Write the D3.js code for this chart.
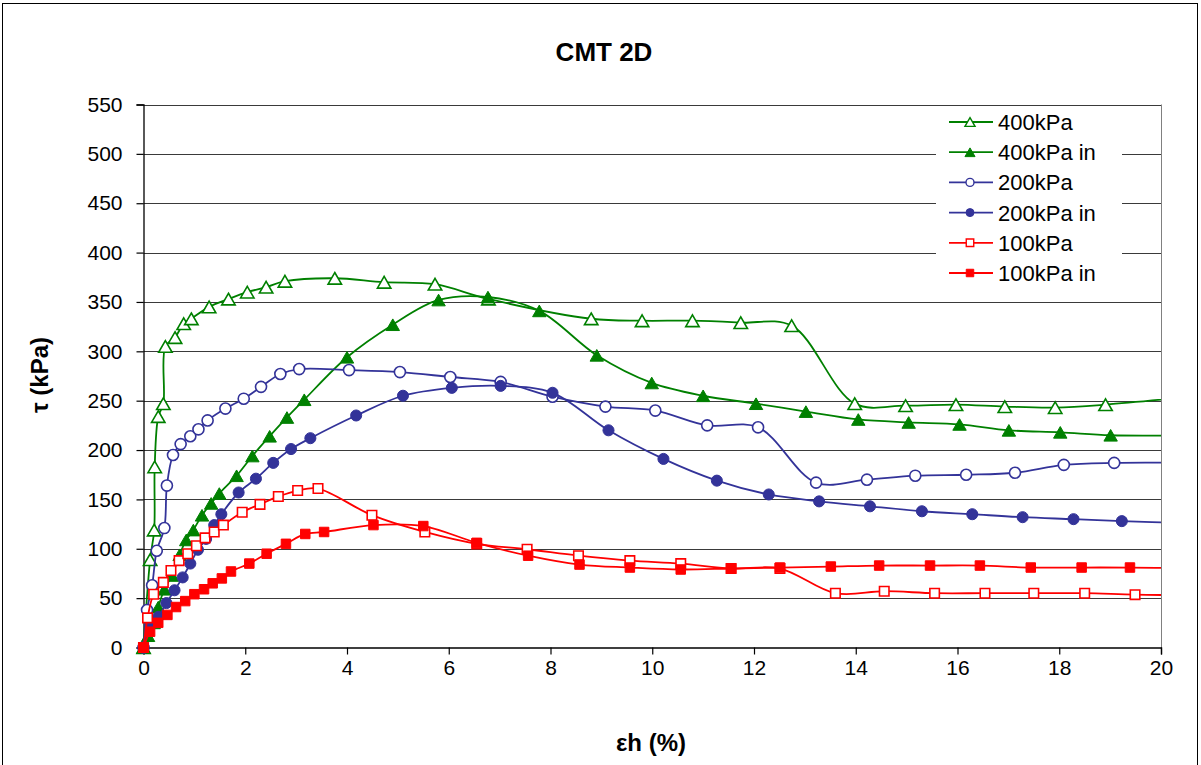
<!DOCTYPE html>
<html><head><meta charset="utf-8">
<script src="https://cdn.jsdelivr.net/npm/d3@7"></script>
<style>body{margin:0;background:#fff}svg{display:block}text{font-family:"Liberation Sans",Arial,sans-serif}</style>
</head><body>
<svg id="c" width="1201" height="765"></svg>
<script>
// ---- data ----
const xTicks = [0,2,4,6,8,10,12,14,16,18,20];
const yTicks = [0,50,100,150,200,250,300,350,400,450,500,550];

const x400 = [0,0.13,0.21,0.22,0.29,0.39,0.43,0.62,0.79,0.94,1.29,1.67,2.04,2.41,2.78,3.76,4.73,5.73,6.78,8.80,9.80,10.79,11.74,12.74,13.98,14.98,15.97,16.93,17.92,18.91,20.6];
const y400 = [0,89,119,183,234,247,305,314,328,333,345,353,360,365,371,374,370,368,353,333,331,331,329,326,247,245,246,244,243,246,254];

const x400in = [0,0.09,0.2,0.29,0.41,0.56,0.71,0.84,0.98,1.15,1.33,1.49,1.83,2.14,2.48,2.82,3.16,4.00,4.90,5.80,6.77,7.78,8.91,9.99,11.00,12.04,13.02,14.05,15.04,16.04,17.01,18.02,19.01,20.6];
const y400in = [0,12,25,41,59,73,94,109,119,134,146,156,174,194,214,233,251,294,327,352,355,341,296,268,255,247,239,231,228,226,220,218,215,215];

const x200 = [0,0.07,0.17,0.26,0.41,0.46,0.58,0.73,0.92,1.08,1.26,1.61,1.97,2.31,2.69,3.06,4.04,5.04,6.03,7.02,8.04,9.08,10.06,11.08,12.08,13.22,14.22,15.17,16.17,17.13,18.09,19.08,20.6];
const y200 = [0,38,63,98,121,164,195,206,214,221,230,242,252,264,277,282,281,279,274,269,254,244,240,225,223,167,170,174,175,177,185,187,187];

const x200in = [0,0.13,0.29,0.45,0.61,0.77,0.92,1.07,1.23,1.39,1.53,1.87,2.21,2.55,2.90,3.28,4.18,5.10,6.06,7.02,8.04,9.14,10.22,11.27,12.29,13.28,14.28,15.30,16.29,17.28,18.28,19.23,20.6];
const y200in = [0,23,31,45,58,71,85,99,110,124,135,157,171,187,201,212,235,255,263,265,258,220,191,169,155,148,143,138,135,132,130,128,126];

const x100 = [0,0.08,0.20,0.39,0.54,0.70,0.87,1.04,1.21,1.39,1.57,1.94,2.29,2.65,3.03,3.43,4.49,5.53,6.55,7.54,8.55,9.56,10.56,11.55,12.51,13.60,14.56,15.55,16.54,17.50,18.50,19.49,20.6];
const y100 = [0,30,54,66,78,88,95,103,111,117,124,137,145,153,159,161,134,117,105,99.5,93,88,85,80,80,55,57,55,55,55,55,53.5,53];

const x100in = [0,0.13,0.29,0.47,0.64,0.82,1.00,1.19,1.36,1.54,1.72,2.08,2.42,2.80,3.18,3.55,4.52,5.50,6.55,7.56,8.57,9.56,10.56,11.55,12.51,13.51,14.46,15.46,16.44,17.44,18.44,19.39,20.6];
const y100in = [0,16,25,33,41,47,54,59,65,70,77,85,95,105,115,117,124,123,106,93,84,81,79,80,81,82,83,83,83,81,81,81,80];

const seriesNames = ["400kPa","400kPa in","200kPa","200kPa in","100kPa","100kPa in"];
const seriesX = [x400,x400in,x200,x200in,x100,x100in];
const seriesY = [y400,y400in,y200,y200in,y100,y100in];
const seriesColor = ["#008000","#008000","#333399","#333399","#FF0000","#FF0000"];
const seriesShape = ["triangle","triangle","circle","circle","square","square"];
const seriesFilled = [false,true,false,true,false,true];

// ---- layout ----
const svg = d3.select("#c");
const L = 143.5, R = 1161, T = 104.5, B = 647.5;
const xS = d3.scaleLinear().domain([0,20]).range([L,R]);
const yS = d3.scaleLinear().domain([0,550]).range([B,T]);

// outer frame
svg.append("rect").attr("x",2.5).attr("y",3.5).attr("width",1195).attr("height",800)
  .attr("fill","none").attr("stroke","#000").attr("stroke-width",1);

// gridlines
svg.append("g").selectAll("line").data(yTicks.filter(d=>d>0)).join("line")
  .attr("x1",L).attr("x2",R).attr("y1",d=>Math.round(yS(d))+0.5).attr("y2",d=>Math.round(yS(d))+0.5)
  .attr("stroke","#3a3a3a").attr("stroke-width",1);
// right plot border
svg.append("line").attr("x1",R+0.5).attr("x2",R+0.5).attr("y1",T).attr("y2",B).attr("stroke","#808080");

// axes
const yAxis = d3.axisLeft(yS).tickValues(yTicks).tickSize(7).tickPadding(14).tickFormat(d3.format("d"));
const gy = svg.append("g").attr("transform",`translate(${L},0)`).call(yAxis);
const xAxis = d3.axisBottom(xS).tickValues(xTicks).tickSize(7).tickPadding(6).tickFormat(d3.format("d"));
const gx = svg.append("g").attr("transform",`translate(0,${B})`).call(xAxis);
[gx,gy].forEach(g=>{
  g.selectAll(".domain").attr("stroke","#000").attr("stroke-width",1.3);
  g.selectAll(".tick line").attr("stroke","#000").attr("stroke-width",1.2);
  g.selectAll("text").attr("font-size",21).attr("fill","#000").attr("font-family","'Liberation Sans',Arial,sans-serif");
});

// clip
svg.append("defs").append("clipPath").attr("id","clip").append("rect")
  .attr("x",L-8).attr("y",T-10).attr("width",R-L+8).attr("height",B-T+20);

function symPath(shape, big){
  const t = shape==="triangle"?d3.symbolTriangle:shape==="circle"?d3.symbolCircle:d3.symbolSquare;
  const s = shape==="triangle"?(big?78:44):shape==="circle"?(big?96:50):(big?90:56);
  return d3.symbol().type(t).size(s)();
}

const line = d3.line().curve(d3.curveCatmullRom.alpha(0.5)).x(d=>xS(d[0])).y(d=>yS(d[1]));
const plot = svg.append("g").attr("clip-path","url(#clip)");
seriesNames.forEach((name,i)=>{
  const pts = seriesX[i].map((xv,j)=>[xv,seriesY[i][j]]);
  const g = plot.append("g");
  g.append("path").datum(pts).attr("d",line).attr("fill","none")
    .attr("stroke",seriesColor[i]).attr("stroke-width",1.8);
  const off = seriesShape[i]==="triangle"?2:0;
  g.selectAll("path.m").data(pts.filter(p=>p[0]<=20)).join("path").attr("class","m")
    .attr("d",symPath(seriesShape[i],true))
    .attr("transform",p=>`translate(${xS(p[0])},${yS(p[1])+off})`)
    .attr("fill",seriesFilled[i]?seriesColor[i]:"#fff")
    .attr("stroke",seriesColor[i]).attr("stroke-width",seriesFilled[i]?1:1.6);
});

// legend
const lg = svg.append("g");
lg.append("rect").attr("x",936).attr("y",107).attr("width",186).attr("height",182).attr("fill","#fff");
seriesNames.forEach((name,i)=>{
  const yy = 122 + i*30.2;
  lg.append("line").attr("x1",949).attr("x2",993).attr("y1",yy).attr("y2",yy)
    .attr("stroke",seriesColor[i]).attr("stroke-width",1.8);
  const off = seriesShape[i]==="triangle"?1.5:0;
  lg.append("path").attr("d",symPath(seriesShape[i],false)).attr("transform",`translate(970,${yy+off})`)
    .attr("fill",seriesFilled[i]?seriesColor[i]:"#fff").attr("stroke",seriesColor[i]).attr("stroke-width",seriesFilled[i]?1:1.4);
  lg.append("text").attr("x",998).attr("y",yy).attr("dy","0.36em").attr("font-size",22).text(name);
});

// titles
svg.append("text").attr("x",604).attr("y",61).attr("text-anchor","middle").attr("font-size",26)
  .attr("font-weight","bold").text("CMT 2D");
svg.append("text").attr("transform","translate(48,375) rotate(-90)").attr("text-anchor","middle")
  .attr("font-size",24).attr("font-weight","bold").text("τ (kPa)");
svg.append("text").attr("x",651).attr("y",751).attr("text-anchor","middle").attr("font-size",24)
  .attr("font-weight","bold").text("εh (%)");
</script>
</body></html>
